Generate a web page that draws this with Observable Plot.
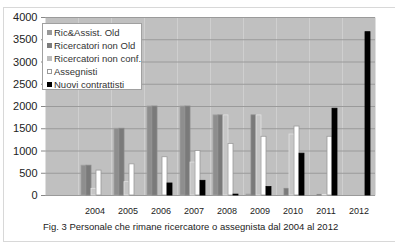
<!DOCTYPE html>
<html>
<head>
<meta charset="utf-8">
<script src="https://cdn.jsdelivr.net/npm/d3@7"></script>
<script src="https://cdn.jsdelivr.net/npm/@observablehq/plot@0.6"></script>
<style>
  html, body { margin: 0; padding: 0; background: #fff; }
  body { width: 395px; height: 243px; position: relative; overflow: hidden; font-family: "Liberation Sans", Arial, sans-serif; }
  #border { position: absolute; left: 3px; top: 7px; width: 392px; height: 235px; border: 1px solid #d8d8d8; box-sizing: border-box; border-right: none; }
  #chart { position: absolute; left: 0; top: 0; }
  #legend { position: absolute; left: 42px; top: 23px; width: 100px; height: 67px; background: #fff; border: 1px solid #a0a0a0; box-sizing: border-box; padding-top: 2px; }
  .item { height: 13px; line-height: 13px; font-size: 9.5px; color: #333; padding-left: 4px; white-space: nowrap; }
  .sw { display: inline-block; width: 5px; height: 5px; margin-right: 2px; vertical-align: 1px; box-sizing: border-box; }
  #caption { position: absolute; left: 43px; top: 219px; font-size: 9.5px; line-height: 16px; color: #222; white-space: nowrap; }
</style>
</head>
<body>
<div id="border"></div>
<div id="chart"></div>
<div id="legend"></div>
<div id="caption"></div>
<script>
const years = ["", "2004", "2005", "2006", "2007", "2008", "2009", "2010", "2011", "2012"];
const seriesNames = ["Ric&Assist. Old", "Ricercatori non Old", "Ricercatori non conf.", "Assegnisti", "Nuovi contrattisti"];
const ricAssistOld   = [null, 670, 1500, 2000, 2000, 1800, 20, 0, 0, 0];
const ricNonOld      = [null, 670, 1500, 2000, 2000, 1800, 1800, 150, 15, 0];
const ricNonConf     = [null, 150, 300, 0, 740, 1800, 1800, 1370, 15, 0];
const assegnisti     = [null, 560, 700, 860, 1000, 1160, 1320, 1550, 1320, 0];
const nuoviContratt  = [null, 0, 0, 270, 330, 20, 190, 940, 1950, 3670];
const yTicks = [0, 500, 1000, 1500, 2000, 2500, 3000, 3500, 4000];
const captionText = "Fig. 3 Personale che rimane ricercatore o assegnista dal 2004 al 2012";

const fills = ["#8e8e8e", "#7a7a7a", "#c6c6c6", "#ffffff", "#000000"];
const strokes = ["#a0a0a0", "#8a8a8a", "#e2e2e2", "#9a9a9a", "#000000"];
const swatchFills = ["#999999", "#7c7c7c", "#bdbdbd", "#ffffff", "#000000"];

const allSeries = [ricAssistOld, ricNonOld, ricNonConf, assegnisti, nuoviContratt];
const rows = [];
years.forEach((yr, i) => {
  allSeries.forEach((arr, s) => {
    if (arr[i] != null) rows.push({year: yr, series: seriesNames[s], value: arr[i], s});
  });
});
const gridRows = [];
years.forEach(yr => yTicks.forEach(t => gridRows.push({year: yr, t})));

const chart = Plot.plot({
  width: 395,
  height: 219,
  marginTop: 17,
  marginLeft: 42,
  marginRight: 18,
  marginBottom: 24,
  style: {fontFamily: "Liberation Sans, Arial, sans-serif", color: "#222", background: "transparent"},
  fx: {domain: years, padding: 0, label: null},
  x: {domain: seriesNames, paddingInner: 0, paddingOuter: 0.55, align: 0.4, axis: null},
  y: {domain: [0, 4000], label: null},
  color: {domain: seriesNames, range: fills},
  marks: [
    Plot.frame({fill: "#c0c0c0", stroke: "none"}),
    Plot.ruleY(gridRows, {y: "t", fx: "year", stroke: "#9a9a9a", strokeWidth: 1, strokeOpacity: 1}),
    Plot.barY(rows, {fx: "year", x: "series", y: "value", fill: "series", stroke: d => strokes[d.s], strokeWidth: 0.8}),
    Plot.axisY({ticks: yTicks, tickFormat: d => String(d), tickSize: 4, tickPadding: 4, fontSize: 11, stroke: "#888", label: null}),
    Plot.axisFx({anchor: "bottom", tickSize: 0, tickPadding: 12, fontSize: 9, label: null})
  ]
});
document.getElementById("chart").appendChild(chart);

const legend = document.getElementById("legend");
seriesNames.forEach((name, i) => {
  const div = document.createElement("div");
  div.className = "item";
  const sw = document.createElement("span");
  sw.className = "sw";
  sw.style.background = swatchFills[i];
  sw.style.border = "1px solid " + (i === 3 ? "#999" : swatchFills[i]);
  div.appendChild(sw);
  div.appendChild(document.createTextNode(name));
  legend.appendChild(div);
});
document.getElementById("caption").textContent = captionText;
</script>
</body>
</html>
